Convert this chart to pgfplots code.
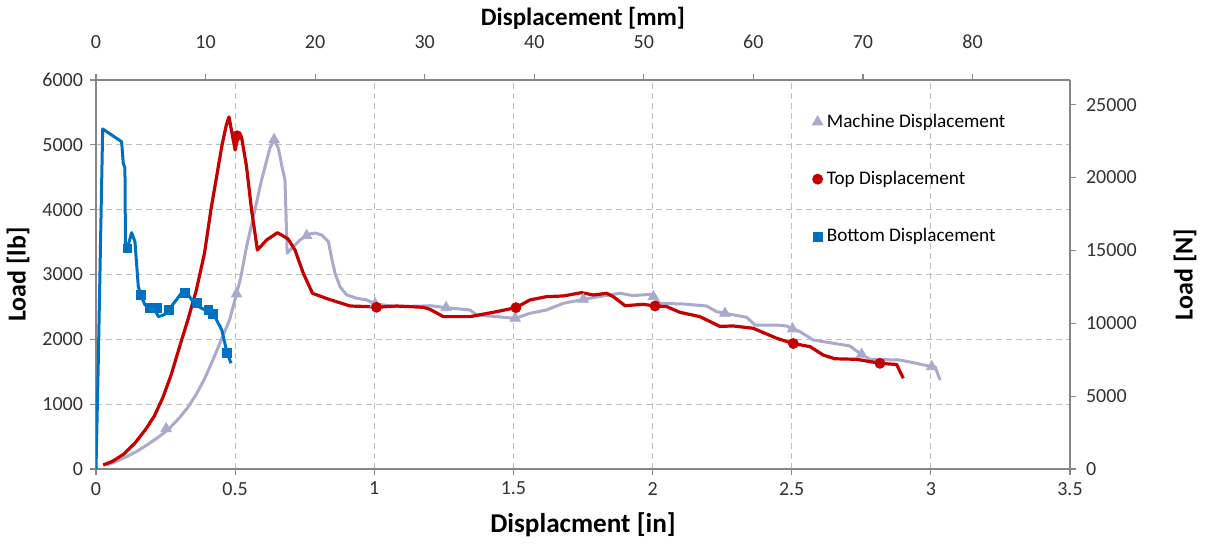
\documentclass[border=0pt]{standalone}
\usepackage{fontspec}
\setmainfont{Carlito}
\usepackage{pgfplots}
\pgfplotsset{compat=1.18}

\definecolor{machine}{RGB}{170,170,204}
\definecolor{topd}{RGB}{196,0,0}
\definecolor{botd}{RGB}{0,112,192}
\definecolor{gridc}{RGB}{190,190,190}
\definecolor{axc}{RGB}{134,134,134}
\definecolor{txt}{RGB}{50,50,50}

\pgfplotsset{
  common/.style={
    at={(0,0)}, anchor=south west,
    scale only axis, width=487pt, height=194.5pt,
    axis line style={axc, line width=0.6pt},
    tick style={axc, line width=0.6pt},
    major tick length=3pt, tick align=outside,
    ticklabel style={font=\fontsize{10}{12}\selectfont, text=txt},
    /pgf/number format/assume math mode=true,
    /pgf/number format/1000 sep={},
    scaled ticks=false,
    label style={font=\fontsize{13}{15}\selectfont\bfseries},
  }
}

\begin{document}
\begin{tikzpicture}
\useasboundingbox (-48pt,-40.5pt) rectangle (556.5pt,234.5pt);
\begin{axis}[
  common,
  xmin=0, xmax=3.5, ymin=0, ymax=6000,
  axis x line*=bottom, axis y line*=left,
  xtick={0,0.5,1,1.5,2,2.5,3,3.5},
  xticklabels={0,0.5,1,1.5,2,2.5,3,3.5},
  ytick={0,1000,2000,3000,4000,5000,6000},
  grid=major,
  major grid style={gridc, dash pattern=on 3pt off 2pt, line width=0.5pt},
  xlabel={Displacment [in]},
  ylabel={Load [lb]},
  xlabel style={at={(axis description cs:0.5,-0.144)}, anchor=center,
    font=\fontsize{13.6}{15}\selectfont\bfseries},
  ylabel style={at={(axis description cs:-0.080,0.5)}, anchor=center},
  legend style={at={(0.729,0.935)}, anchor=north west, draw=none, fill=none,
    font=\fontsize{9.6}{11}\selectfont, row sep=16.5pt},
  legend cell align=left,
  legend image code/.code={\draw[#1] plot coordinates {(0.1cm,0cm)};},
]
% Machine Displacement
\addplot[machine, line width=1.5pt, line join=round, forget plot] table {
x y
0.038 62
0.070 110
0.110 190
0.150 280
0.190 390
0.230 510
0.260 610
0.300 790
0.330 950
0.360 1150
0.390 1390
0.420 1680
0.450 1990
0.480 2300
0.500 2620
0.520 2950
0.541 3429
0.571 3995
0.595 4458
0.625 4950
0.640 5080
0.655 4950
0.671 4612
0.679 4458
0.687 3327
0.703 3404
0.733 3532
0.763 3620
0.787 3640
0.811 3610
0.835 3506
0.847 3250
0.859 3019
0.877 2812
0.901 2684
0.937 2633
0.973 2607
1.003 2545
1.080 2504
1.176 2514
1.200 2519
1.258 2488
1.344 2453
1.368 2375
1.440 2350
1.506 2324
1.559 2401
1.619 2453
1.679 2555
1.751 2617
1.823 2669
1.883 2710
1.931 2674
1.991 2694
2.003 2658
2.026 2555
2.110 2545
2.194 2514
2.230 2427
2.260 2401
2.338 2340
2.368 2221
2.446 2221
2.481 2206
2.530 2118
2.577 1990
2.637 1948
2.709 1897
2.745 1784
2.781 1692
2.889 1681
2.937 1640
3.003 1578
3.015 1578
3.033 1373
};
\addplot[machine, only marks, mark=triangle*, mark size=3pt, forget plot] table {
x y
0.252 620
0.505 2700
0.640 5080
0.757 3600
1.003 2545
1.258 2488
1.506 2324
1.751 2617
2.003 2658
2.260 2401
2.503 2160
2.751 1770
3.003 1578
};
% Top Displacement
\addplot[topd, line width=1.6pt, line join=round, forget plot] table {
x y
0.026 62
0.060 120
0.100 230
0.140 400
0.180 620
0.210 820
0.240 1100
0.270 1450
0.300 1880
0.330 2300
0.360 2750
0.390 3330
0.413 4000
0.433 4500
0.453 5000
0.468 5300
0.478 5430
0.490 5150
0.500 4920
0.511 5150
0.523 5120
0.541 4663
0.559 3995
0.580 3378
0.613 3532
0.652 3645
0.690 3550
0.715 3378
0.745 3019
0.778 2710
0.835 2620
0.913 2514
0.985 2504
1.008 2494
1.080 2514
1.176 2494
1.200 2463
1.248 2350
1.344 2350
1.440 2427
1.509 2489
1.559 2607
1.619 2658
1.679 2669
1.745 2720
1.787 2684
1.835 2710
1.859 2658
1.901 2519
1.967 2540
2.009 2514
2.051 2504
2.098 2417
2.170 2350
2.242 2200
2.290 2206
2.362 2170
2.446 2016
2.506 1935
2.566 1887
2.613 1758
2.655 1700
2.733 1692
2.817 1630
2.877 1612
2.901 1399
};
\addplot[topd, only marks, mark=*, mark size=2.5pt, forget plot] table {
x y
0.507 5140
1.008 2494
1.509 2489
2.009 2514
2.506 1935
2.817 1630
};
% Bottom Displacement
\addplot[botd, line width=1.5pt, line join=round, forget plot] table {
x y
0.000 0
0.008 1600
0.024 5245
0.092 5049
0.098 4715
0.104 4643
0.106 3378
0.113 3409
0.128 3645
0.140 3506
0.152 2812
0.161 2684
0.176 2530
0.195 2490
0.210 2470
0.224 2350
0.245 2380
0.260 2453
0.284 2581
0.308 2720
0.332 2684
0.356 2530
0.392 2453
0.421 2402
0.452 2144
0.470 1810
0.485 1630
};
\addplot[botd, only marks, mark=square*, mark size=2.2pt, forget plot] table {
x y
0.113 3404
0.161 2684
0.194 2479
0.218 2479
0.262 2453
0.320 2710
0.362 2556
0.404 2453
0.421 2391
0.470 1785
};
\addlegendimage{only marks, mark=triangle*, mark size=3pt, machine}
\addlegendentry{Machine Displacement}
\addlegendimage{only marks, mark=*, mark size=2.5pt, topd}
\addlegendentry{Top Displacement}
\addlegendimage{only marks, mark=square*, mark size=2.2pt, botd}
\addlegendentry{Bottom Displacement}
\end{axis}

\begin{axis}[
  common,
  xmin=0, xmax=88.9, ymin=0, ymax=26689,
  axis x line*=top, axis y line*=right,
  xtick={0,10,20,30,40,50,60,70,80},
  ytick={0,5000,10000,15000,20000,25000},
  xticklabel style={yshift=9pt},
  yticklabel style={xshift=1.5pt},
  xlabel={Displacement [mm]},
  ylabel={Load [N]},
  xlabel style={at={(axis description cs:0.5,1.159)}, anchor=center,
    font=\fontsize{12.5}{14}\selectfont\bfseries},
  ylabel style={at={(axis description cs:1.118,0.5)}, anchor=center},
]
\addplot[draw=none] coordinates {(0,0)};
\end{axis}
\end{tikzpicture}
\end{document}
